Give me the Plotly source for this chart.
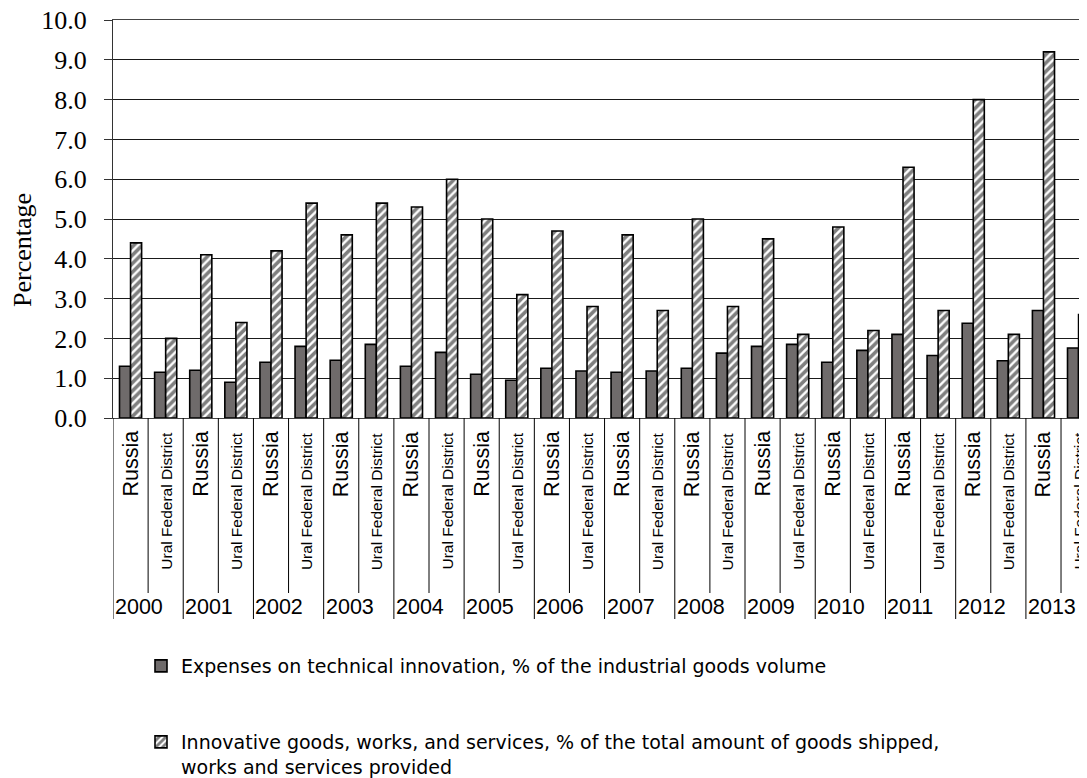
import plotly.graph_objects as go

years = [2000, 2001, 2002, 2003, 2004, 2005, 2006, 2007, 2008, 2009, 2010, 2011, 2012, 2013]
regions = ["Russia", "Ural Federal District"]

expenses_russia = [1.3, 1.2, 1.4, 1.45, 1.3, 1.1, 1.25, 1.15, 1.25, 1.8, 1.4, 2.1, 2.38, 2.7]
expenses_ural = [1.15, 0.9, 1.8, 1.85, 1.65, 0.95, 1.18, 1.18, 1.63, 1.85, 1.7, 1.57, 1.44, 1.76]
innov_russia = [4.4, 4.1, 4.2, 4.6, 5.3, 5.0, 4.7, 4.6, 5.0, 4.5, 4.8, 6.3, 8.0, 9.2]
innov_ural = [2.0, 2.4, 5.4, 5.4, 6.0, 3.1, 2.8, 2.7, 2.8, 2.1, 2.2, 2.7, 2.1, 2.6]

y_ticks = [0, 1, 2, 3, 4, 5, 6, 7, 8, 9, 10]

series1_name = "Expenses on technical innovation, % of the industrial goods volume"
series2_name = ("Innovative goods, works, and services, % of the total amount of goods shipped,"
                "<br>works and services provided")

# interleave per year: Russia, Ural
xpos, exp_vals, inn_vals, labels = [], [], [], []
for i, yr in enumerate(years):
    for j, reg in enumerate(regions):
        xpos.append(2 * i + j)
        labels.append(reg)
    exp_vals += [expenses_russia[i], expenses_ural[i]]
    inn_vals += [innov_russia[i], innov_ural[i]]

fig = go.Figure()
fig.add_trace(go.Bar(
    x=xpos, y=exp_vals, name=series1_name,
    marker=dict(color="#6f6b6b", line=dict(color="black", width=1.6)),
    legend="legend",
))
fig.add_trace(go.Bar(
    x=xpos, y=inn_vals, name=series2_name,
    marker=dict(color="white", line=dict(color="black", width=1.6),
                pattern=dict(shape="/", fgcolor="black", bgcolor="white", size=6, solidity=0.6)),
    legend="legend2",
))

# page body has an 8px margin; reference pixel positions are shifted accordingly
BODY = 8
FIG_W, FIG_H = 1087 - BODY, 778 - BODY
PLOT_LEFT, PLOT_TOP, PLOT_BOTTOM = 113, 20, 418   # in reference-window pixels
PH = PLOT_BOTTOM - PLOT_TOP
PW = 1087 - PLOT_LEFT

def py(pix):
    return (PLOT_BOTTOM - pix) / PH

def px(pix):
    return (pix - PLOT_LEFT) / PW

annotations = []
shapes = []
for k, (xp, lab) in enumerate(zip(xpos, labels)):
    if lab == "Russia":
        annotations.append(dict(x=xp, y=0, xref="x", yref="y", text=lab, textangle=-90,
                                showarrow=False, yanchor="top", xanchor="center", yshift=-11,
                                font=dict(family="Liberation Sans, Arial", size=21.5, color="black")))
    else:
        annotations.append(dict(x=xp, y=0, xref="x", yref="y", text=lab, textangle=-90,
                                showarrow=False, yanchor="top", xanchor="center", yshift=-12,
                                font=dict(family="Liberation Sans, Arial", size=15.5, color="black")))

for i, yr in enumerate(years):
    x_year = 2 * i - 0.5
    x_inner = 2 * i + 0.5
    shapes.append(dict(type="line", xref="x", yref="paper", x0=x_year, x1=x_year,
                       y0=0, y1=py(619), line=dict(color="black", width=1)))
    shapes.append(dict(type="line", xref="x", yref="paper", x0=x_inner, x1=x_inner,
                       y0=0, y1=py(593), line=dict(color="black", width=1)))
    annotations.append(dict(x=x_year, y=py(607), xref="x", yref="paper", text=str(yr),
                            showarrow=False, xanchor="left", yanchor="middle", xshift=0,
                            font=dict(family="Liberation Sans, Arial", size=21.5, color="black")))

annotations.append(dict(x=px(23), y=py(250), xref="paper", yref="paper",
                        text="Percentage", textangle=-90, showarrow=False,
                        xanchor="center", yanchor="middle",
                        font=dict(family="Liberation Serif, Times New Roman", size=26, color="black")))

legend_font = dict(family="DejaVu Sans", size=19, color="black")

fig.update_layout(
    width=FIG_W, height=FIG_H,
    margin=dict(l=PLOT_LEFT - BODY, r=0, t=PLOT_TOP - BODY, b=FIG_H - (PLOT_BOTTOM - BODY),
                autoexpand=False),
    paper_bgcolor="white", plot_bgcolor="white",
    barmode="group", bargap=0.37, bargroupgap=0,
    showlegend=True,
    legend=dict(x=px(141), y=py(666), xanchor="left", yanchor="middle",
                bgcolor="rgba(0,0,0,0)", font=legend_font),
    legend2=dict(x=px(141), y=py(723), xanchor="left", yanchor="top", valign="top",
                 bgcolor="rgba(0,0,0,0)", font=legend_font),
    xaxis=dict(range=[-0.5, 27.24], showticklabels=False, showgrid=False, zeroline=False,
               showline=True, mirror=True, linecolor="#444444", linewidth=1, ticks="",
               automargin=False),
    yaxis=dict(range=[0, 10], tickvals=y_ticks, tickformat=".1f", showgrid=True,
               gridcolor="#1a1a1a", gridwidth=1, zeroline=False, showline=True,
               linecolor="#333333", linewidth=1.2, ticks="outside", ticklen=8, tickcolor="#333333",
               ticklabelstandoff=12, ticklabeloverflow="allow", automargin=False,
               tickfont=dict(family="Liberation Serif, Times New Roman", size=26, color="black")),
    annotations=annotations,
    shapes=shapes,
)

fig.write_html("out.html")
